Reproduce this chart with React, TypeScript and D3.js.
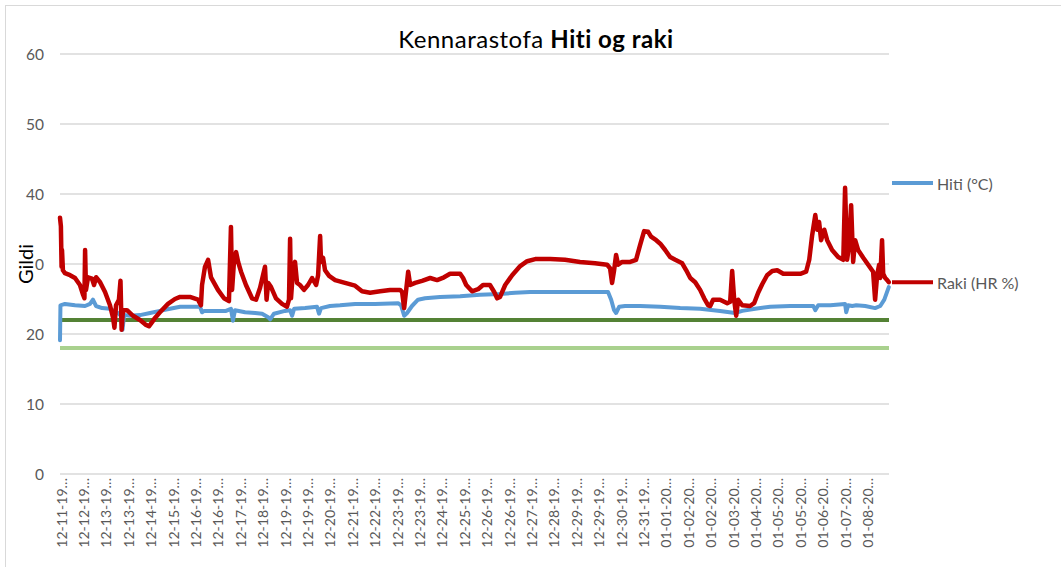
import React from 'react';
import * as d3 from 'd3';

const xLabels: string[] = [
  '12-11-19…', '12-12-19…', '12-13-19…', '12-13-19…', '12-14-19…', '12-15-19…',
  '12-16-19…', '12-16-19…', '12-17-19…', '12-18-19…', '12-19-19…', '12-19-19…',
  '12-20-19…', '12-21-19…', '12-22-19…', '12-23-19…', '12-23-19…', '12-24-19…',
  '12-25-19…', '12-26-19…', '12-26-19…', '12-27-19…', '12-28-19…', '12-29-19…',
  '12-29-19…', '12-30-19…', '12-31-19…', '01-01-20…', '01-02-20…', '01-02-20…',
  '01-03-20…', '01-04-20…', '01-05-20…', '01-05-20…', '01-06-20…', '01-07-20…',
  '01-08-20…',
];

const yTicks: number[] = [0, 10, 20, 30, 40, 50, 60];

// [sample step, value]; 10 steps per category label
const hitiPoints: [number, number][] = [
  [0, 19.1], [0.2, 24.1], [2.2, 24.3], [6.7, 24.1], [11.2, 24.0], [13.4, 24.3], [14.7, 24.9],
  [16.1, 24.0], [18.8, 23.7], [22.3, 23.6], [25.9, 23.0], [27.2, 22.6], [27.9, 20.6], [28.6, 22.7],
  [31.3, 22.6], [35.7, 22.7], [40.2, 23.0], [44.6, 23.3], [49.1, 23.6], [53.6, 23.9], [58.0, 23.9],
  [62.5, 23.9], [63.4, 23.1], [64.3, 23.3], [69.2, 23.3], [74.1, 23.3], [76.3, 23.6], [77.2, 21.9],
  [78.1, 23.4], [82.6, 23.1], [87.1, 23.0], [90.2, 22.9], [92.9, 22.4], [93.8, 22.1], [95.5, 22.9],
  [100.4, 23.3], [102.7, 23.4], [103.6, 22.6], [104.5, 23.6], [109.4, 23.7], [114.7, 23.9],
  [115.6, 22.9], [116.5, 23.7], [120.5, 24.0], [125.0, 24.1], [131.7, 24.3], [140.6, 24.3],
  [150.9, 24.4], [152.2, 24.1], [153.6, 22.6], [154.9, 23.0], [157.1, 24.0], [159.8, 24.9],
  [162.9, 25.1], [169.6, 25.3], [178.6, 25.4], [187.5, 25.6], [196.4, 25.7], [203.1, 25.9],
  [209.8, 26.0], [223.2, 26.0], [236.6, 26.0], [244.6, 26.0], [246.0, 24.9], [247.3, 23.4],
  [248.2, 23.0], [249.6, 23.9], [252.2, 24.0], [258.9, 24.0], [267.9, 23.9], [276.8, 23.7],
  [285.7, 23.6], [294.6, 23.3], [301.3, 23.0], [304.5, 23.3], [310.3, 23.6], [317.0, 23.9],
  [325.9, 24.0], [336.2, 24.0], [337.1, 23.4], [338.4, 24.1], [343.8, 24.1], [350.4, 24.3],
  [350.9, 23.1], [351.8, 24.1], [353.6, 24.0], [355.4, 24.1], [359.4, 24.0], [363.8, 23.7],
  [366.1, 24.0], [367.9, 24.9], [369.9, 26.7],
];

const rakiPoints: [number, number][] = [
  [0, 36.6], [0.4, 35.4], [0.7, 29.6], [0.9, 32.0], [1.3, 29.1], [2.2, 28.7], [4.5, 28.4],
  [6.7, 28.0], [8.9, 27.0], [10.3, 25.6], [10.9, 25.1], [11.2, 32.0], [11.6, 26.3], [12.5, 28.1],
  [14.3, 27.9], [15.2, 27.0], [16.1, 28.1], [17.9, 27.4], [20.1, 26.0], [22.3, 24.1], [23.7, 22.3],
  [24.3, 20.9], [25.0, 24.1], [26.3, 24.9], [27.0, 27.6], [27.5, 20.6], [28.1, 23.4], [29.9, 23.4],
  [32.6, 22.6], [35.7, 22.0], [38.4, 21.3], [39.7, 21.1], [41.1, 21.7], [42.4, 22.3], [44.6, 23.1],
  [48.2, 24.3], [51.3, 25.0], [53.6, 25.3], [58.0, 25.3], [61.6, 24.9], [62.9, 24.1], [63.4, 27.0],
  [64.7, 29.6], [66.1, 30.6], [67.4, 28.1], [70.5, 26.3], [73.2, 25.1], [75.4, 24.7], [76.3, 35.3],
  [76.8, 26.3], [77.7, 30.6], [78.6, 31.7], [79.5, 30.3], [80.8, 28.9], [83.0, 27.0], [85.7, 25.1],
  [87.5, 24.9], [89.3, 26.6], [90.6, 28.4], [91.5, 29.6], [92.2, 24.9], [92.9, 27.3], [94.2, 26.7],
  [96.4, 25.1], [99.1, 24.3], [101.3, 23.9], [102.2, 24.9], [102.7, 33.6], [103.1, 25.1],
  [104.0, 29.1], [104.9, 30.3], [105.8, 27.3], [107.1, 27.0], [108.9, 26.3], [110.7, 27.0],
  [112.5, 28.0], [114.3, 27.0], [115.2, 28.4], [116.1, 34.0], [116.5, 30.3], [117.4, 30.9],
  [118.3, 29.1], [120.1, 28.3], [122.8, 27.7], [127.2, 27.3], [131.7, 26.9], [134.8, 26.1],
  [138.4, 25.9], [142.9, 26.1], [147.3, 26.3], [151.8, 26.3], [152.7, 26.0], [153.6, 23.7],
  [154.5, 26.3], [155.4, 28.9], [156.3, 27.0], [158.5, 27.3], [161.6, 27.6], [165.2, 28.0],
  [168.3, 27.7], [171.4, 28.1], [174.1, 28.6], [178.6, 28.6], [179.9, 28.0], [181.3, 27.0],
  [183.9, 26.1], [186.6, 26.4], [188.8, 27.0], [191.9, 27.0], [193.8, 26.0], [195.1, 25.1],
  [196.4, 25.3], [198.7, 27.0], [201.8, 28.4], [205.4, 29.7], [208.5, 30.4], [212.1, 30.7],
  [218.8, 30.7], [225.4, 30.6], [232.1, 30.3], [238.8, 30.1], [244.2, 29.9], [245.5, 29.4],
  [246.4, 27.3], [247.3, 29.1], [248.2, 31.3], [249.1, 29.9], [250.9, 30.3], [254.5, 30.3],
  [257.1, 30.6], [258.9, 32.7], [260.7, 34.7], [262.5, 34.6], [263.8, 33.9], [266.1, 33.4],
  [267.9, 32.9], [270.1, 32.0], [272.3, 31.0], [274.6, 30.6], [277.7, 30.1], [279.5, 29.1],
  [281.3, 28.0], [283.5, 27.4], [285.7, 26.3], [287.5, 25.1], [289.3, 24.1], [290.2, 24.0],
  [291.5, 24.9], [294.6, 24.9], [297.8, 24.4], [299.1, 24.6], [300.0, 29.0], [300.9, 24.9],
  [301.8, 22.6], [302.7, 24.9], [304.5, 24.1], [308.0, 24.0], [309.8, 24.4], [311.6, 25.9],
  [313.4, 27.1], [315.6, 28.4], [317.9, 29.0], [320.1, 29.1], [322.8, 28.6], [325.9, 28.6],
  [330.4, 28.6], [333.0, 28.9], [334.4, 30.6], [335.7, 34.1], [337.1, 37.0], [338.0, 34.9],
  [338.8, 36.0], [339.7, 33.4], [341.1, 34.9], [342.4, 33.4], [344.6, 32.0], [347.3, 31.0],
  [349.6, 30.6], [350.4, 40.9], [351.3, 30.6], [352.2, 32.7], [353.1, 38.4], [354.0, 30.3],
  [354.9, 33.4], [356.2, 32.0], [358.5, 30.9], [360.7, 29.9], [362.9, 28.9], [363.8, 24.9],
  [364.7, 28.4], [365.6, 29.9], [366.1, 28.0], [366.9, 33.4], [367.4, 28.6], [368.3, 28.0],
  [369.2, 27.7], [369.9, 27.4],
];

const refHigh = 22;
const refLow = 18;

const seriesNames = ['Hiti (°C)', 'Raki (HR %)'];
const seriesColors = ['#5b9bd5', '#c00000'];

export default function App() {
  const W = 1061;
  const H = 567;
  const x = d3.scaleLinear().domain([0, 370]).range([60, 889]);
  const y = d3.scaleLinear().domain([0, 60]).range([474, 54]);
  const line = d3
    .line<[number, number]>()
    .x((d) => x(d[0]))
    .y((d) => y(d[1]));

  const font = 'Lato, "Open Sans", sans-serif';
  const [x0, x1] = x.range();

  const hitiEnd = hitiPoints[hitiPoints.length - 1];
  const rakiEnd = rakiPoints[rakiPoints.length - 1];
  const legendY = [y(hitiEnd[1]) - 104, y(rakiEnd[1])];

  return (
    <svg
      width={W}
      height={H}
      style={{ position: 'absolute', left: 0, top: 0, background: '#fff' }}
      fontFamily={font}
    >
      <rect x={5.5} y={5.5} width={1200} height={700} fill="#fff" stroke="#d9d9d9" />
      <text x={536} y={48} textAnchor="middle" fontSize={24} letterSpacing={0.5} fill="#000">
        <tspan>Kennarastofa </tspan>
        <tspan fontWeight="bold">Hiti og raki</tspan>
      </text>
      {yTicks.map((t) => (
        <g key={t}>
          <line x1={x0} x2={x1} y1={y(t)} y2={y(t)} stroke="#d9d9d9" strokeWidth={1.3} />
          <text x={44} y={y(t)} textAnchor="end" dominantBaseline="central" fontSize={15.5} fill="#595959">
            {t}
          </text>
        </g>
      ))}
      <g transform={`translate(25,${y(30)}) rotate(-90)`}>
        <rect x={-21} y={-10} width={42} height={20} fill="#fff" />
        <text textAnchor="middle" dominantBaseline="central" fontSize={20} fill="#000">
          Gildi
        </text>
      </g>
      {xLabels.map((lab, i) => (
        <text
          key={i}
          transform={`translate(${x(i * 10) + 1},478) rotate(-90)`}
          textAnchor="end"
          dominantBaseline="central"
          fontSize={14}
          fill="#595959"
        >
          {lab}
        </text>
      ))}
      <line x1={x0} x2={x1} y1={y(refLow)} y2={y(refLow)} stroke="#a9d18e" strokeWidth={4} />
      <line x1={x0} x2={x1} y1={y(refHigh)} y2={y(refHigh)} stroke="#548235" strokeWidth={4} />
      <path d={line(hitiPoints) || ''} fill="none" stroke={seriesColors[0]} strokeWidth={4} strokeLinejoin="round" strokeLinecap="round" />
      <path d={line(rakiPoints) || ''} fill="none" stroke={seriesColors[1]} strokeWidth={4.5} strokeLinejoin="round" strokeLinecap="round" />
      {seriesNames.map((name, i) => (
        <g key={name}>
          <line x1={892} x2={933} y1={legendY[i]} y2={legendY[i]} stroke={seriesColors[i]} strokeWidth={4} />
          <text x={937} y={legendY[i]} dominantBaseline="central" fontSize={16} fill="#595959">
            {name}
          </text>
        </g>
      ))}
    </svg>
  );
}
